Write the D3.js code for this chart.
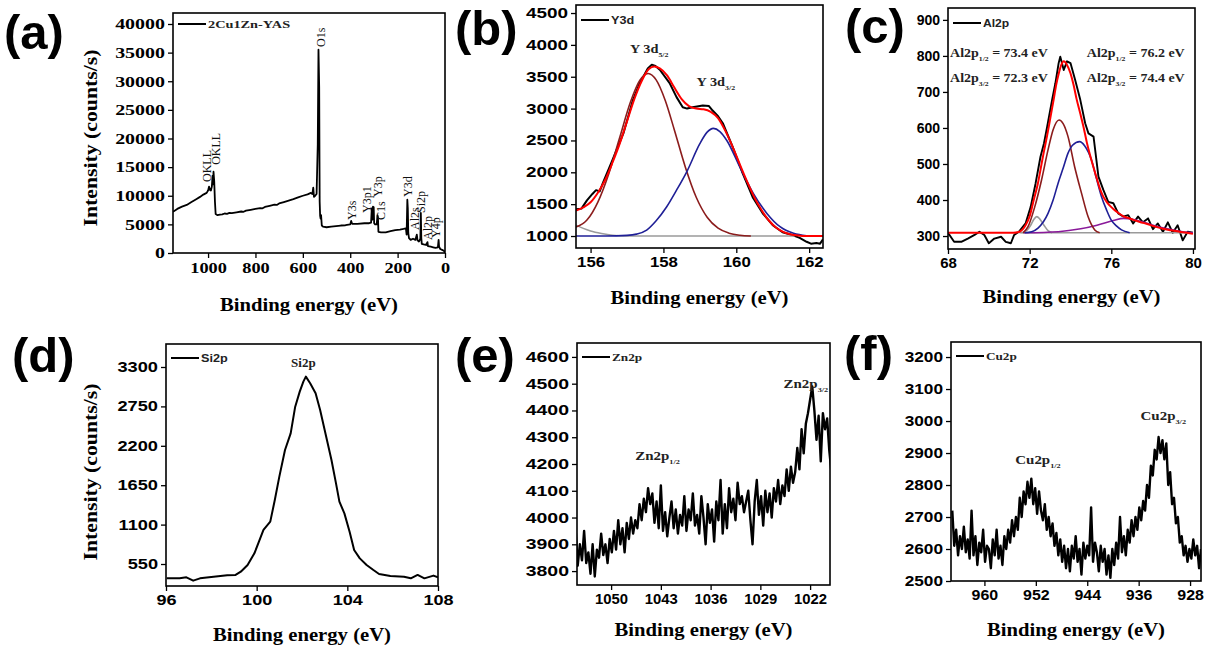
<!DOCTYPE html>
<html>
<head>
<meta charset="utf-8">
<script src="https://cdn.jsdelivr.net/npm/d3@7"></script>
<style>
  body { margin: 0; background: #fff; }
  svg { display: block; }
</style>
</head>
<body>
<svg id="fig" width="1214" height="649"></svg>
<script>
// ---- data ----
// (a) survey spectrum [binding energy eV, counts/s]
var surveyData = [[1148,7200],[1130,7700],[1110,8100],[1090,8400],[1070,8900],[1050,9400],[1034,9800],[1020,10200],[1006,10500],[1000,10900],[996,11600],[992,11000],[988,10900],[984,11600],[981,13500],[979,12000],[977,14200],[974,12500],[971,9000],[968,6800],[960,6600],[950,6700],[940,6750],[930,6900],[920,6850],[910,7000],[900,6950],[880,7100],[860,7250],[850,7200],[840,7400],[820,7550],[800,7700],[780,7850],[770,7800],[760,8050],[740,8250],[720,8450],[710,8400],[700,8650],[680,8900],[660,9150],[640,9400],[620,9700],[600,10000],[580,10250],[566,10500],[560,10300],[556,11400],[553,9800],[548,10000],[542,10300],[537,19000],[534,35500],[531,29000],[529,9000],[527,6500],[525,6000],[523,6600],[520,4800],[515,4600],[500,4500],[480,4600],[460,4700],[440,4800],[420,4850],[400,5000],[396,5600],[392,5100],[370,5100],[340,5200],[320,5200],[312,5300],[309,7800],[307,5800],[304,8100],[301,8000],[299,5200],[295,5000],[288,5000],[285,6600],[283,6300],[281,3700],[270,3600],[250,3600],[230,3800],[210,4000],[190,4100],[175,4200],[165,4300],[162,3200],[159,9300],[157,7800],[155,3500],[152,2600],[145,2300],[135,2500],[125,2300],[119,3200],[116,2200],[110,2000],[104,2500],[102,7000],[100,2600],[98,1600],[90,1500],[80,1400],[74,1900],[72,1200],[60,1100],[50,1000],[40,900],[30,1000],[27,2300],[25,1100],[20,700],[10,500],[5,400],[0,100]];
// survey peak labels [text, eV, counts at text start]
var surveyLabels = [["OKLL",1004,12400],["OKLL",966,15400],["O1s",523,36000],["Y3s",392,5760],["Y3p1",329,6990],["Y3p",283,9780],["C1s",270,5760],["Y3d",156,9780],["Al2s",127,4020],["Si2p",101,6990],["Al2p",72,2270],["Y4p",38,2620]];

// (b) Y3d
var y3dRaw = [[155.6,1420],[155.75,1430],[155.9,1560],[156.05,1660],[156.15,1720],[156.25,1700],[156.35,1850],[156.6,2190],[156.9,2610],[157.16,3130],[157.35,3400],[157.57,3630],[157.68,3690],[157.78,3670],[157.9,3610],[158.17,3400],[158.36,3180],[158.53,3020],[158.65,3000],[158.8,3020],[159.08,3050],[159.25,3040],[159.35,2970],[159.5,2880],[159.63,2770],[159.9,2400],[160.17,1990],[160.45,1610],[160.72,1360],[161.0,1170],[161.27,1060],[161.54,1015],[161.74,970],[161.93,910],[162.05,880],[162.2,890],[162.3,880],[162.38,950]];
var y3dFit = [[155.6,1400],[155.8,1450],[156.0,1530],[156.2,1680],[156.4,1880],[156.6,2150],[156.8,2450],[157.0,2800],[157.2,3150],[157.4,3430],[157.6,3620],[157.75,3660],[157.9,3630],[158.1,3520],[158.3,3330],[158.5,3150],[158.7,3040],[158.9,3000],[159.1,2990],[159.3,2950],[159.5,2850],[159.7,2650],[159.9,2400],[160.1,2120],[160.3,1850],[160.5,1600],[160.7,1400],[160.9,1240],[161.1,1130],[161.3,1060],[161.5,1025],[161.7,1008],[161.9,1000],[162.38,1000]];
var y3d52 = [[155.6,1140],[155.9,1250],[156.2,1533],[156.5,1979],[156.8,2547],[157.1,3110],[157.35,3441],[157.58,3550],[157.8,3450],[158.05,3127],[158.3,2665],[158.6,2085],[158.9,1609],[159.2,1295],[159.5,1123],[159.8,1045],[160.1,1012],[160.4,1000]];
var y3d32 = [[155.6,1000],[156.4,1000],[157.0,1010],[157.26,1030],[157.54,1094],[157.8,1240],[158.09,1460],[158.36,1720],[158.64,2008],[159.0,2450],[159.2,2630],[159.37,2690],[159.55,2640],[159.74,2500],[160.1,2080],[160.47,1665],[160.84,1355],[161.2,1146],[161.57,1042],[161.93,1005],[162.1,1000]];
var y3dBg = [[155.6,1170],[155.8,1120],[156.0,1080],[156.3,1040],[156.6,1012],[156.9,1000],[161.6,1000]];

// (c) Al2p
var al2pRaw = [[68.0,309],[68.3,284],[68.65,284],[68.97,293],[69.3,303],[69.54,312],[69.78,303],[70.0,280],[70.27,293],[70.6,298],[70.83,284],[71.08,280],[71.24,303],[71.48,312],[71.8,335],[72.05,381],[72.29,446],[72.53,520],[72.7,557],[72.86,604],[73.1,678],[73.26,724],[73.42,780],[73.5,798],[73.67,761],[73.83,785],[74.0,780],[74.23,733],[74.48,678],[74.72,613],[74.88,585],[75.13,576],[75.37,465],[75.61,428],[75.85,395],[76.1,391],[76.34,363],[76.58,354],[76.83,358],[77.07,335],[77.31,354],[77.55,338],[77.8,349],[78.04,319],[78.28,335],[78.53,312],[78.77,338],[79.01,309],[79.25,330],[79.5,288],[79.74,312],[80.0,309]];
var al2pFit = [[68,309],[71.2,309],[71.5,312],[71.8,330],[72.0,355],[72.2,400],[72.4,445],[72.55,490],[72.7,535],[72.86,580],[73.02,630],[73.18,680],[73.3,720],[73.42,750],[73.55,775],[73.67,785],[73.83,775],[74.0,752],[74.15,720],[74.3,680],[74.48,640],[74.65,600],[74.8,560],[74.97,522],[75.13,490],[75.3,458],[75.45,430],[75.6,410],[75.77,395],[75.95,383],[76.1,375],[76.35,364],[76.58,355],[76.83,350],[77.07,345],[77.4,339],[77.72,334],[78.1,327],[78.53,320],[78.9,316],[79.34,312],[79.7,309],[80,306]];
var al2pBrown = [[71.68,309],[71.92,326],[72.25,381],[72.58,455],[72.9,539],[73.15,595],[73.44,622],[73.64,612],[73.88,576],[74.2,493],[74.54,419],[74.86,354],[75.19,317],[75.43,309]];
var al2pBlue = [[71.76,309],[72.1,312],[72.41,322],[72.9,363],[73.15,400],[73.39,446],[73.65,490],[73.88,530],[74.1,552],[74.45,562],[74.7,550],[75.03,511],[75.27,460],[75.52,409],[75.77,372],[76.0,344],[76.25,328],[76.5,317],[76.9,309]];
var al2pGray = [[71.6,309],[71.85,315],[72.05,330],[72.2,346],[72.35,354],[72.5,347],[72.7,330],[72.9,315],[73.1,309]];
var al2pPurple = [[71.7,309],[73.4,312],[74.5,320],[75.3,330],[76.1,343],[76.6,349],[77.1,346],[77.6,338],[78.3,326],[79.0,317],[79.6,311],[80,309]];
var al2pBase = [[71.5,309],[80,309]];

// (d) Si2p
var si2pData = [[96.03,350],[96.6,350],[96.9,364],[97.2,318],[97.5,350],[98.1,373],[98.7,392],[99.07,397],[99.3,443],[99.6,536],[99.9,699],[100.1,862],[100.3,1025],[100.6,1141],[100.8,1443],[101.0,1769],[101.25,2141],[101.5,2374],[101.7,2746],[101.9,2956],[102.06,3096],[102.17,3166],[102.36,3073],[102.6,2933],[102.8,2700],[103.0,2421],[103.3,2002],[103.5,1676],[103.65,1420],[103.87,1257],[104.1,1001],[104.3,745],[104.55,629],[104.85,536],[105.15,466],[105.4,411],[105.9,383],[106.5,373],[106.8,350],[107.1,397],[107.4,350],[107.8,388],[108,364]];

// (e) Zn2p, counts on a 0.3 eV grid from 1055 eV downward
var zn2pStart = 1055, zn2pStep = 0.3;
var zn2pI = [3960,3820,3900,3840,3950,3830,3870,3790,3900,3780,3880,
  3850,3940,3860,3900,3830,3920,3870,3950,3880,3990,
  3900,3960,3870,3980,3920,4000,3940,3990,3960,4050,
  3990,4070,4020,4110,4050,4090,3980,4060,3960,4120,
  3950,4020,3930,4000,4060,3960,4030,3940,4010,3970,
  4080,3950,4030,3990,4090,3970,4010,3940,4080,4000,
  3900,4050,3980,4030,3910,4060,3990,4140,3940,4050,
  3960,4110,4020,4070,3990,4130,4050,4080,4020,4060,
  4100,3990,3900,4060,4140,4010,4080,3970,4100,4020,
  4090,4000,4110,4060,4140,4050,4120,4080,4180,4100,
  4190,4130,4170,4260,4180,4330,4240,4350,4390,4440,
  4490,4400,4290,4380,4210,4390,4330,4370,4250,4170];

// (f) Cu2p, counts on a 0.3 eV grid from 965 eV downward
var cu2pStart = 965, cu2pStep = 0.3;
var cu2pI = [2720,2610,2660,2580,2640,2600,2670,2590,2630,2570,
  2720,2580,2640,2550,2620,2590,2660,2560,2610,2600,
  2540,2630,2580,2660,2570,2610,2550,2640,2600,2660,
  2620,2690,2640,2700,2660,2760,2700,2780,2740,2810,
  2760,2820,2740,2790,2710,2780,2720,2690,2740,2660,
  2700,2640,2680,2610,2650,2580,2630,2560,2610,2540,
  2600,2530,2610,2570,2640,2560,2600,2520,2620,2570,
  2610,2580,2730,2560,2620,2590,2530,2610,2560,2600,
  2520,2580,2510,2600,2550,2620,2570,2700,2590,2640,
  2580,2660,2620,2690,2640,2700,2660,2730,2690,2750,
  2720,2800,2760,2860,2830,2910,2880,2950,2900,2940,
  2880,2930,2800,2840,2740,2760,2680,2700,2620,2640,
  2580,2610,2560,2600,2570,2630,2580,2610,2540,2600];

// tick values
var ticksA = {x: [1000,800,600,400,200,0], y: [0,5000,10000,15000,20000,25000,30000,35000,40000]};
var ticksB = {x: [156,158,160,162], y: [1000,1500,2000,2500,3000,3500,4000,4500]};
var ticksC = {x: [68,72,76,80], y: [300,400,500,600,700,800,900]};
var ticksD = {x: [96,100,104,108], y: [550,1100,1650,2200,2750,3300]};
var ticksE = {x: [1050,1043,1036,1029,1022], y: [3800,3900,4000,4100,4200,4300,4400,4500,4600]};
var ticksF = {x: [960,952,944,936,928], y: [2500,2600,2700,2800,2900,3000,3100,3200]};

// ---- drawing ----
var SERIF = "'Liberation Serif','Times New Roman',serif";
var SANS = "'Liberation Sans',Arial,sans-serif";
var svg = d3.select("#fig");

function widen(sel, k) {
  if (!k || k === 1) return;
  sel.each(function () {
    var w = this.getComputedTextLength();
    d3.select(this).attr("textLength", w * k).attr("lengthAdjust", "spacingAndGlyphs");
  });
}

function panel(p) {
  var x0 = p.box[0], y0 = p.box[1], x1 = p.box[2], y1 = p.box[3];
  var x = d3.scaleLinear().domain(p.xd).range([x0, x1]);
  var y = d3.scaleLinear().domain(p.yd).range([y1, y0]);
  var g = svg.append("g");
  svg.append("clipPath").attr("id", "clip-" + p.name)
    .append("rect").attr("x", x0).attr("y", y0).attr("width", x1 - x0).attr("height", y1 - y0);
  var plot = g.append("g").attr("clip-path", "url(#clip-" + p.name + ")");

  var ff = p.serif ? SERIF : SANS;
  var ax = g.append("g").attr("transform", "translate(0," + y1 + ")")
    .call(d3.axisBottom(x).tickValues(p.ticks.x).tickSize(5).tickPadding(4).tickFormat(d3.format("d")));
  var ay = g.append("g").attr("transform", "translate(" + x0 + ",0)")
    .call(d3.axisLeft(y).tickValues(p.ticks.y).tickSize(5).tickPadding(3).tickFormat(d3.format("d")));
  [ax, ay].forEach(function (a) {
    a.select(".domain").remove();
    a.selectAll("line").attr("stroke", "#000").attr("stroke-width", 1.3);
    a.selectAll("text").attr("font-family", ff).attr("font-weight", "bold")
      .attr("font-size", p.fs).attr("fill", "#000");
  });
  widen(ax.selectAll("text"), p.sx);
  widen(ay.selectAll("text"), p.sy);

  g.append("rect").attr("x", x0).attr("y", y0).attr("width", x1 - x0).attr("height", y1 - y0)
    .attr("fill", "none").attr("stroke", "#000").attr("stroke-width", 1.6);

  var t = g.append("text").attr("x", (x0 + x1) / 2).attr("y", p.titleY)
    .attr("text-anchor", "middle").attr("font-family", SERIF).attr("font-weight", "bold")
    .attr("font-size", 19).text("Binding energy (eV)");
  t.attr("textLength", 178).attr("lengthAdjust", "spacingAndGlyphs");

  if (p.ylabel) {
    g.append("text").attr("transform", "translate(97," + p.ylabel + ") rotate(-90)")
      .attr("text-anchor", "middle").attr("font-family", SERIF).attr("font-weight", "bold")
      .attr("font-size", 19).attr("textLength", 177).attr("lengthAdjust", "spacingAndGlyphs")
      .text("Intensity (counts/s)");
  }

  svg.append("text").attr("x", p.letter[0]).attr("y", p.letter[1])
    .attr("font-family", SANS).attr("font-weight", "bold").attr("font-size", 49)
    .text("(" + p.name + ")");

  // legend
  g.append("line").attr("x1", x0 + 5).attr("x2", x0 + 33).attr("y1", y0 + p.legY).attr("y2", y0 + p.legY)
    .attr("stroke", "#000").attr("stroke-width", 2);
  var lt = g.append("text").attr("x", x0 + 35).attr("y", y0 + p.legY + 4)
    .attr("font-family", p.legSerif ? SERIF : SANS).attr("font-weight", "bold")
    .attr("font-size", 11).attr("fill", "#222").text(p.legend);
  widen(lt, p.legK);

  return {x: x, y: y, plot: plot, g: g};
}

function trace(P, data, color, width, curve) {
  P.plot.append("path").datum(data)
    .attr("fill", "none").attr("stroke", color).attr("stroke-width", width)
    .attr("stroke-linejoin", "round")
    .attr("d", d3.line().x(function (d) { return P.x(d[0]); }).y(function (d) { return P.y(d[1]); })
      .curve(curve || d3.curveLinear));
}

// text with a subscript, anchored at data coordinates
function subLabel(P, ex, ey, main, sub, rest, fs, k) {
  var t = P.g.append("text").attr("x", P.x(ex)).attr("y", P.y(ey))
    .attr("font-family", SERIF).attr("font-weight", "bold").attr("font-size", fs).attr("fill", "#222");
  t.append("tspan").text(main);
  t.append("tspan").attr("font-size", fs * 0.55).attr("dy", 4).text(sub);
  if (rest) t.append("tspan").attr("dy", -4).text(rest);
  widen(t, k);
  return t;
}

// (a) survey
var A = panel({name: "a", box: [173, 13, 445, 253], xd: [1148, 0], yd: [0, 41920], ticks: ticksA,
  serif: true, fs: 15, sx: 1.22, sy: 1.33, titleY: 311, ylabel: 138, letter: [4, 49],
  legend: "2Cu1Zn-YAS", legSerif: true, legY: 11, legK: 1.3});
trace(A, surveyData, "#000", 1.8);
surveyLabels.forEach(function (d) {
  A.g.append("text").attr("transform", "translate(" + A.x(d[1]) + "," + A.y(d[2]) + ") rotate(-90)")
    .attr("dy", "0.35em").attr("font-family", SERIF).attr("font-size", 12).attr("fill", "#111")
    .text(d[0]);
});

// (b) Y3d
var B = panel({name: "b", box: [576, 5, 823, 248], xd: [155.6, 162.38], yd: [812, 4626], ticks: ticksB,
  fs: 14, sx: 1.2, sy: 1.35, titleY: 304, letter: [455, 45],
  legend: "Y3d", legY: 15, legK: 1.15});
trace(B, y3dRaw, "#000", 2);
trace(B, y3dBg, "#9a9a9a", 1.6, d3.curveMonotoneX);
trace(B, y3d52, "#8b1c1c", 1.6, d3.curveMonotoneX);
trace(B, y3d32, "#1f1f96", 1.6, d3.curveMonotoneX);
trace(B, y3dFit, "#ff0000", 2, d3.curveMonotoneX);
subLabel(B, 157.08, 3868, "Y 3d", "5/2", null, 13, 1.1);
subLabel(B, 158.91, 3351, "Y 3d", "3/2", null, 13, 1.1);

// (c) Al2p
var C = panel({name: "c", box: [948, 8, 1195, 249], xd: [68, 80.1], yd: [264, 933], ticks: ticksC,
  fs: 14, sx: 1.07, sy: 1, titleY: 303, letter: [845, 43],
  legend: "Al2p", legY: 15, legK: 1.1});
trace(C, al2pRaw, "#000", 1.9);
trace(C, al2pBase, "#9a9a9a", 1.6);
trace(C, al2pGray, "#9a9a9a", 1.6, d3.curveMonotoneX);
trace(C, al2pPurple, "#8a1a9a", 1.6, d3.curveMonotoneX);
trace(C, al2pBrown, "#8b1c1c", 1.6, d3.curveMonotoneX);
trace(C, al2pBlue, "#1f1f96", 1.6, d3.curveMonotoneX);
trace(C, al2pFit, "#ff0000", 2, d3.curveMonotoneX);
subLabel(C, 68.1, 797, "Al2p", "1/2", " = 73.4 eV", 12.5, 1.12);
subLabel(C, 68.1, 728, "Al2p", "3/2", " = 72.3 eV", 12.5, 1.12);
subLabel(C, 74.8, 797, "Al2p", "1/2", " = 76.2 eV", 12.5, 1.12);
subLabel(C, 74.8, 728, "Al2p", "3/2", " = 74.4 eV", 12.5, 1.12);

// (d) Si2p
var D = panel({name: "d", box: [166, 344, 438, 586], xd: [96, 108], yd: [243, 3621], ticks: ticksD,
  fs: 14, sx: 1.29, sy: 1.3, titleY: 641, ylabel: 472, letter: [12, 372],
  legend: "Si2p", legY: 14, legK: 1.15});
trace(D, si2pData, "#000", 2);
D.g.append("text").attr("x", D.x(102.06)).attr("y", D.y(3304)).attr("text-anchor", "middle")
  .attr("font-family", SERIF).attr("font-weight", "bold").attr("font-size", 13).attr("fill", "#222")
  .text("Si2p");

// (e) Zn2p
var E = panel({name: "e", box: [577, 343, 830, 585], xd: [1054.8, 1019.2], yd: [3748, 4652], ticks: ticksE,
  fs: 14, sx: 1.06, sy: 1.39, titleY: 636, letter: [455, 372],
  legend: "Zn2p", legSerif: true, legY: 14, legK: 1.2});
trace(E, zn2pI.map(function (v, i) { return [zn2pStart - i * zn2pStep, v]; }), "#000", 2.4);
subLabel(E, 1025.73, 4483, "Zn2p", "3/2", null, 13, 1.15);
subLabel(E, 1046.6, 4215, "Zn2p", "1/2", null, 13, 1.15);

// (f) Cu2p
var F = panel({name: "f", box: [951, 342, 1201, 581], xd: [965.2, 926.3], yd: [2500, 3247], ticks: ticksF,
  fs: 14, sx: 1.14, sy: 1.23, titleY: 636, letter: [844, 370],
  legend: "Cu2p", legSerif: true, legY: 14, legK: 1.2});
trace(F, cu2pI.map(function (v, i) { return [cu2pStart - i * cu2pStep, v]; }), "#000", 2.4);
subLabel(F, 935.7, 3003, "Cu2p", "3/2", null, 13, 1.15);
subLabel(F, 955.2, 2866, "Cu2p", "1/2", null, 13, 1.15);
</script>
</body>
</html>
